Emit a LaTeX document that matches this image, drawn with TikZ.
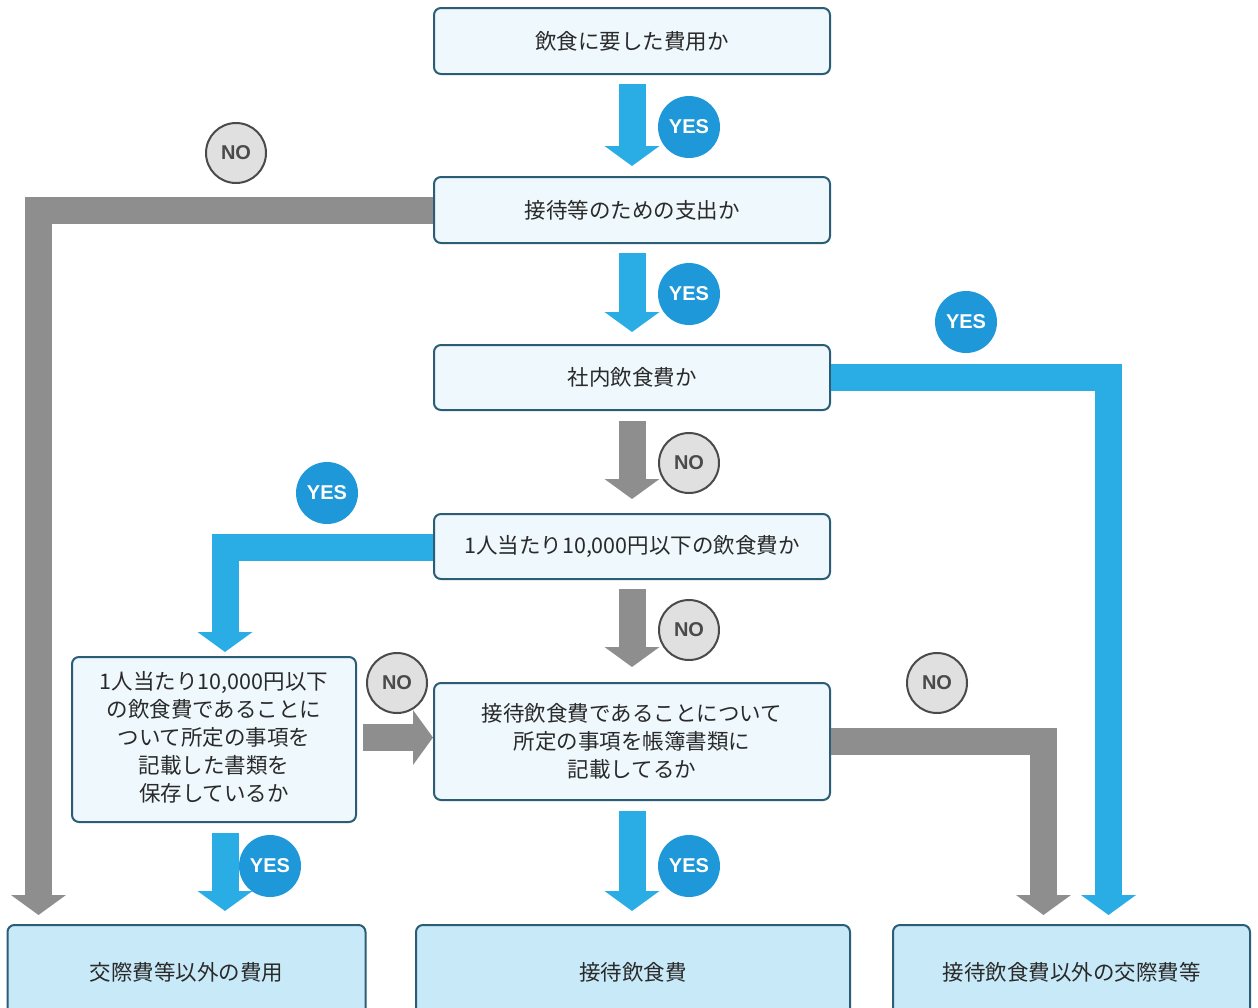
\documentclass[tikz,border=0pt]{standalone}
\usepackage{fontspec}
\setmainfont{Noto Sans CJK JP}
\newfontfamily\labfont{Liberation Sans}
\usetikzlibrary{arrows.meta}
\definecolor{flowblue}{HTML}{2AADE4}
\definecolor{yesblue}{HTML}{1E98D8}
\definecolor{flowgray}{HTML}{8E8E8E}
\definecolor{nofill}{HTML}{E0E0E0}
\definecolor{noline}{HTML}{4A4A4A}
\definecolor{boxline}{HTML}{2B5E76}
\definecolor{boxfill}{HTML}{EEF8FD}
\definecolor{endfill}{HTML}{C8EAF8}
\definecolor{txt}{HTML}{2A2A2A}
\tikzset{
  qbox/.style={draw=boxline, line width=2pt, fill=boxfill, rounded corners=7pt,
    text=txt, font=\fontsize{21.5}{28}\selectfont, align=center, inner sep=0pt},
  endbox/.style={qbox, fill=endfill},
  bluearrow/.style={draw=flowblue, line width=27pt, line join=miter,
    -{Triangle[width=54pt,length=20pt]}},
  grayarrow/.style={draw=flowgray, line width=27pt, line join=miter,
    -{Triangle[width=54pt,length=20pt]}},
  yeslab/.style={circle, fill=yesblue, minimum size=62pt, inner sep=0pt,
    text=white, font=\labfont\bfseries\fontsize{20}{20}\selectfont},
  nolab/.style={circle, fill=nofill, draw=noline, line width=2pt, minimum size=60pt,
    inner sep=0pt, text=noline, font=\labfont\bfseries\fontsize{20}{20}\selectfont}
}
\begin{document}
\begin{tikzpicture}[x=1pt,y=-1pt]
\useasboundingbox (0,0) rectangle (1258,1007);
\clip (0,0) rectangle (1258,1007);
% boxes
\node[qbox, minimum width=396pt, minimum height=66pt] (b1) at (632,41) {飲食に要した費用か};
\node[qbox, minimum width=396pt, minimum height=66pt] (b2) at (632,210) {接待等のための支出か};
\node[qbox, minimum width=396pt, minimum height=65pt] (b3) at (632,377.5) {社内飲食費か};
\node[qbox, minimum width=396pt, minimum height=65pt] (b4) at (632,546.5) {1人当たり10,000円以下の飲食費か};
\node[qbox, minimum width=284pt, minimum height=165pt] (b5) at (214,739.5)
  {\raisebox{-4pt}{\begin{tabular}{@{}c@{}}1人当たり10,000円以下\\の飲食費であることに\\ついて所定の事項を\\記載した書類を\\保存しているか\end{tabular}}};
\node[qbox, minimum width=396pt, minimum height=117pt] (b6) at (632,741.5)
  {接待飲食費であることについて\\所定の事項を帳簿書類に\\記載してるか};
\node[endbox, minimum width=358pt, minimum height=110pt] (ea) at (186.5,980) {\raisebox{18pt}{交際費等以外の費用}};
\node[endbox, minimum width=434pt, minimum height=110pt] (eb) at (633,980) {\raisebox{18pt}{接待飲食費}};
\node[endbox, minimum width=357pt, minimum height=110pt] (ec) at (1071.5,980) {\raisebox{18pt}{接待飲食費以外の交際費等}};
% straight connectors
\draw[bluearrow, shorten <=9pt, shorten >=10pt] (b1.south) -- (b2.north);
\draw[bluearrow, shorten <=9pt, shorten >=12pt] (b2.south) -- (b3.north);
\draw[grayarrow, shorten <=10pt, shorten >=14pt] (b3.south) -- (b4.north);
\draw[grayarrow, shorten <=9pt, shorten >=15pt] (b4.south) -- (b6.north);
\draw[bluearrow, shorten <=10pt, shorten >=13pt] (b6.south) -- (b6.south |- eb.north);
\draw[bluearrow, shorten <=10pt, shorten >=13pt] ([xshift=11pt]b5.south) -- ([xshift=11pt]b5.south |- ea.north);
\draw[grayarrow, shorten <=6pt] ([yshift=2pt]b5.east) -- ([yshift=2pt]b5.east -| b6.west);
% elbow connectors
\coordinate (a2) at (38.5,925);
\draw[grayarrow, shorten >=10pt] ([yshift=-0.5pt]b2.west) -| (a2);
\coordinate (c3) at (1108.5,925);
\draw[bluearrow, shorten >=10pt] (b3.east) -| (c3);
\coordinate (c6) at (1043.5,925);
\draw[grayarrow, shorten >=10pt] (b6.east) -| (c6);
\coordinate (b5t) at (225,657);
\draw[bluearrow, shorten >=5pt] ([yshift=-0.5pt]b4.west) -| (b5t);
% labels
\node[yeslab] (y1) at (689,127) {YES};
\node[yeslab] (y2) at (689,294) {YES};
\node[yeslab] (y3) at (966,322) {YES};
\node[yeslab] (y4) at (327,493) {YES};
\node[yeslab] (y5) at (270,866) {YES};
\node[yeslab] (y6) at (689,866) {YES};
\node[nolab] (n1) at (236,153) {NO};
\node[nolab] (n2) at (689,463) {NO};
\node[nolab] (n3) at (689,630) {NO};
\node[nolab] (n4) at (397,683) {NO};
\node[nolab] (n5) at (937,683) {NO};
\end{tikzpicture}
\end{document}
